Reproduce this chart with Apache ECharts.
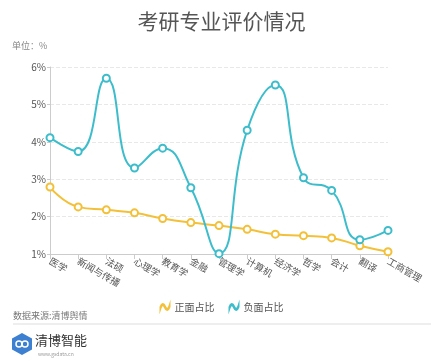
<!DOCTYPE html>
<html><head><meta charset="utf-8">
<script src="https://cdn.jsdelivr.net/npm/echarts@6/dist/echarts.min.js"></script>
<style>html,body{margin:0;padding:0;background:#fff}#c{width:443px;height:361px}</style>
</head><body><div id="c"></div>
<script>
var categories = ['医学','新闻与传播','法硕','心理学','教育学','金融','管理学','计算机','经济学','哲学','会计','翻译','工商管理'];
var positive = [2.79,2.26,2.18,2.10,1.95,1.84,1.76,1.66,1.53,1.49,1.43,1.22,1.06];
var negative = [4.11,3.74,5.70,3.30,3.83,2.77,1.01,4.31,5.52,3.04,2.70,1.38,1.63];
var seriesNames = ['正面占比','负面占比'];
var yTicks = [1,2,3,4,5,6];

var wave = 'path://M0,6 C2,0 5,0 7,5 C9,10 12,10 14,4 L14,6 C12,12 9,12 7,7 C5,2 2,2 0,8 Z';
var chart = echarts.init(document.getElementById('c'), null, {renderer:'canvas'});
var font = '"Noto Sans CJK SC", sans-serif';
chart.setOption({
  animation:false,
  textStyle:{fontFamily:font},
  title:{text:'考研专业评价情况', left:'center', top:6, textStyle:{fontSize:21, fontWeight:'normal', color:'#555', fontFamily:font}},
  grid:{left:50, right:55, top:67, bottom:107},
  legend:{top:297, left:'center', itemWidth:9, itemHeight:7, itemGap:14,
    textStyle:{fontSize:10, color:'#555'},
    data:[{name:seriesNames[0], icon:wave},{name:seriesNames[1], icon:wave}]},
  xAxis:{type:'category', data:categories, boundaryGap:false,
    axisLine:{lineStyle:{color:'#ccc'}}, axisTick:{show:true, lineStyle:{color:'#ccc'}},
    axisLabel:{rotate:-30, fontSize:9.5, color:'#555', interval:0, margin:6}},
  yAxis:{type:'value', min:yTicks[0], max:yTicks[yTicks.length-1], interval:1,
    axisLine:{show:true, lineStyle:{color:'#ccc'}}, axisTick:{show:true, length:3, lineStyle:{color:'#ccc'}},
    axisLabel:{formatter:'{value}%', fontSize:10, color:'#555', margin:4},
    splitLine:{lineStyle:{type:'dashed', color:'#e8e8e8'}}},
  series:[
    {name:seriesNames[0], type:'line', data:positive, smooth:true, symbol:'emptyCircle', symbolSize:7,
     itemStyle:{color:'#f3c03a', borderColor:'#f3c03a', borderWidth:1.5},
     lineStyle:{width:2, color:'#f3c03a'}},
    {name:seriesNames[1], type:'line', data:negative, smooth:true, symbol:'emptyCircle', symbolSize:7,
     itemStyle:{color:'#3dbdcb', borderColor:'#3dbdcb', borderWidth:1.5},
     lineStyle:{width:2, color:'#3dbdcb'}}
  ],
  graphic:[
    {type:'text', left:12, top:41, style:{text:'单位：%', fontSize:9, fill:'#888', fontFamily:font}},
    {type:'text', left:13, top:311, style:{text:'数据来源:清博舆情', fontSize:9, fill:'#777', fontFamily:font}},
    {type:'line', shape:{x1:13, y1:324, x2:431, y2:324}, style:{stroke:'#ddd', lineWidth:1}},
    {type:'polygon', shape:{points:[[22,333],[32,338.5],[32,349.5],[22,355],[12,349.5],[12,338.5]]}, style:{fill:'#3d7fd1'}},
    {type:'circle', shape:{cx:19, cy:344, r:3}, style:{fill:'none', stroke:'#fff', lineWidth:1.5}},
    {type:'circle', shape:{cx:25, cy:344, r:3}, style:{fill:'none', stroke:'#fff', lineWidth:1.5}},
    {type:'text', left:35, top:334, style:{text:'清博智能', fontSize:13, fill:'#333', fontFamily:font}},
    {type:'text', left:38, top:352, style:{text:'www.gsdata.cn', fontSize:5, fill:'#999', fontFamily:font}}
  ]
});
</script></body></html>
